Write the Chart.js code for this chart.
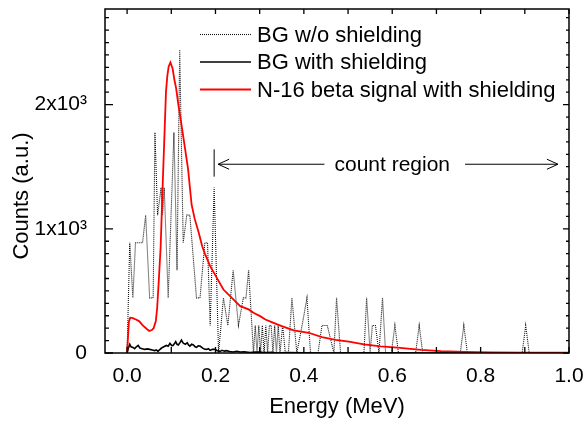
<!DOCTYPE html>
<html>
<head>
<meta charset="utf-8">
<title>N-16 beta spectrum</title>
<script src="https://cdn.jsdelivr.net/npm/chart.js@4.4.1/dist/chart.umd.min.js"></script>
<style>
  html, body { margin: 0; padding: 0; background: #fff; }
  canvas { display: block; }
</style>
</head>
<body>
<canvas id="spectrumChart" width="585" height="424"></canvas>
<script>
// BG w/o shielding (dotted), energy in MeV and counts
const bgNoShieldEnergy = [
  0.000, 0.006, 0.013, 0.019, 0.035, 0.042, 0.051, 0.059, 0.063, 0.069,
  0.077, 0.080, 0.084, 0.093, 0.106, 0.113, 0.119, 0.127, 0.135, 0.142,
  0.157, 0.165, 0.176, 0.182, 0.188, 0.197, 0.207, 0.218, 0.228, 0.240,
  0.252, 0.263, 0.269, 0.275, 0.286, 0.290, 0.294, 0.298, 0.302, 0.306,
  0.310, 0.314, 0.318, 0.322, 0.326, 0.330, 0.334, 0.338, 0.342, 0.346,
  0.352, 0.358, 0.365, 0.373, 0.384, 0.396, 0.407, 0.415, 0.432, 0.441,
  0.453, 0.468, 0.474, 0.483, 0.536, 0.542, 0.550, 0.555, 0.562, 0.570,
  0.578, 0.585, 0.598, 0.606, 0.614, 0.653, 0.661, 0.669, 0.754, 0.762,
  0.770, 0.894, 0.902, 0.910, 1.000
];
const bgNoShieldCounts = [
  0, 888, 444, 888, 888, 1110, 444, 444, 1776, 1110,
  1332, 1110, 1332, 444, 1776, 666, 2442, 888, 1110, 1110,
  444, 444, 888, 888, 222, 1332, 0, 444, 222, 666,
  222, 444, 444, 666, 0, 222, 0, 222, 0, 222,
  0, 222, 0, 222, 222, 0, 222, 0, 222, 0,
  222, 0, 0, 444, 0, 222, 444, 0, 0, 222,
  222, 0, 444, 0, 0, 444, 0, 222, 222, 0,
  444, 0, 0, 222, 0, 0, 222, 0, 0, 222,
  0, 0, 222, 0, 0
];

// BG with shielding (solid black)
const bgShieldEnergy = [
  0.000, 0.003, 0.006, 0.009, 0.013, 0.017, 0.021, 0.025, 0.029, 0.034,
  0.040, 0.046, 0.051, 0.057, 0.062, 0.066, 0.070, 0.074, 0.078, 0.083,
  0.089, 0.093, 0.097, 0.101, 0.104, 0.108, 0.110, 0.113, 0.116, 0.120,
  0.123, 0.126, 0.128, 0.132, 0.136, 0.139, 0.142, 0.146, 0.150, 0.154,
  0.157, 0.161, 0.165, 0.169, 0.172, 0.176, 0.180, 0.184, 0.188, 0.193,
  0.199, 0.204, 0.210, 0.215, 0.220, 0.225, 0.232, 0.240, 0.248, 0.256,
  0.265, 0.278, 0.290, 0.301, 0.308, 0.316, 0.327, 0.339, 0.360, 0.400,
  0.450, 0.500, 0.600, 0.700, 0.800, 0.900, 1.000
];
const bgShieldCounts = [
  0, 40, 70, 50, 45, 35, 50, 61, 40, 35,
  29, 33, 29, 24, 19, 25, 13, 28, 40, 50,
  61, 55, 77, 60, 61, 80, 91, 70, 64, 85,
  104, 85, 77, 70, 83, 65, 56, 70, 64, 50,
  45, 58, 56, 45, 37, 30, 29, 35, 21, 30,
  29, 18, 13, 22, 15, 19, 12, 8, 14, 8,
  10, 3, 7, 8, 4, 3, 5, 0, 3, 2,
  0, 1, 2, 0, 1, 0, 0
];

// N-16 beta signal with shielding (red)
const n16Energy = [
  0.000, 0.004, 0.007, 0.013, 0.020, 0.027, 0.036, 0.044, 0.050, 0.056,
  0.060, 0.065, 0.068, 0.072, 0.076, 0.081, 0.085, 0.088, 0.091, 0.094,
  0.098, 0.103, 0.107, 0.111, 0.116, 0.122, 0.131, 0.138, 0.146, 0.153,
  0.162, 0.170, 0.176, 0.188, 0.203, 0.218, 0.237, 0.256, 0.275, 0.286,
  0.301, 0.313, 0.330, 0.350, 0.377, 0.411, 0.441, 0.472, 0.502, 0.536,
  0.574, 0.612, 0.665, 0.710, 0.763, 0.824, 0.900, 1.000
];
const n16Counts = [
  0, 250, 284, 281, 270, 257, 220, 195, 178, 185,
  200, 257, 360, 600, 860, 1400, 1800, 2104, 2230, 2305,
  2339, 2291, 2200, 2131, 2000, 1863, 1650, 1480, 1194, 1080,
  970, 860, 800, 700, 605, 511, 444, 377, 351, 324,
  297, 270, 245, 217, 182, 163, 128, 105, 91, 69,
  53, 43, 25, 15, 8, 4, 3, 2
];

const seriesLabels = ['BG w/o shielding', 'BG with shielding', 'N-16 beta signal with shielding'];

const xTickValues = [0, 0.2, 0.4, 0.6, 0.8, 1.0];
const yTickValues = [0, 1000, 2000];
const yTickLabels = ['0', '1x10³', '2x10³'];

// count region marker (MeV / counts)
const countRegionStart = 0.197;
const countRegionEnd = 0.975;
const countRegionLabelAt = 0.6;
const countRegionLevel = 1520;
const countRegionMarkTop = 1640;
const countRegionMarkBottom = 1420;

const FONT = "'Liberation Sans', Arial, Helvetica, sans-serif";

function toPoints(xs, ys) {
    return xs.map((x, i) => ({ x: x, y: ys[i] }));
}

function drawArrowHead(ctx, x, y, dir) {
    ctx.moveTo(x - dir * 11, y - 5);
    ctx.lineTo(x, y);
    ctx.lineTo(x - dir * 11, y + 5);
}

const frameAndTicks = {
    id: 'frameAndTicks',
    afterDatasetsDraw(chart) {
        const { ctx, chartArea: a, scales: { x, y } } = chart;
        ctx.save();
        ctx.strokeStyle = '#000';
        ctx.lineWidth = 1.5;
        ctx.strokeRect(a.left, a.top, a.right - a.left, a.bottom - a.top);

        ctx.lineWidth = 1.3;
        ctx.beginPath();
        for (let i = 0; i <= 10; i++) {
            const px = x.getPixelForValue(i / 10);
            ctx.moveTo(px, a.bottom);
            ctx.lineTo(px, a.bottom - 6);
            ctx.moveTo(px, a.top);
            ctx.lineTo(px, a.top + 5);
        }
        for (let v = 0; v <= y.max; v += 100) {
            const py = y.getPixelForValue(v);
            const major = v % 1000 === 0;
            ctx.moveTo(a.left, py);
            ctx.lineTo(a.left + (major ? 8 : 4), py);
            ctx.moveTo(a.right, py);
            ctx.lineTo(a.right - (major ? 6 : 3), py);
        }
        ctx.stroke();
        ctx.restore();
    },
    afterDraw(chart) {
        const { ctx, chartArea: a, scales: { x, y } } = chart;
        ctx.save();

        // legend
        ctx.font = '22px ' + FONT;
        ctx.textBaseline = 'middle';
        ctx.textAlign = 'left';
        chart.data.datasets.forEach((ds, i) => {
            const rowY = a.top + 25.5 + i * 27.5;
            ctx.beginPath();
            ctx.strokeStyle = ds.borderColor;
            ctx.lineWidth = ds.borderWidth;
            ctx.setLineDash(ds.borderDash || []);
            ctx.moveTo(a.left + 95, rowY);
            ctx.lineTo(a.left + 146, rowY);
            ctx.stroke();
            ctx.setLineDash([]);
            ctx.fillStyle = '#000';
            ctx.fillText(ds.label, a.left + 152, rowY + 1);
        });

        // count region annotation
        ctx.font = '21px ' + FONT;
        const x0 = x.getPixelForValue(countRegionStart);
        const x1 = x.getPixelForValue(countRegionEnd);
        const yl = y.getPixelForValue(countRegionLevel);
        const xt = x.getPixelForValue(countRegionLabelAt);
        const tw = ctx.measureText('count region').width;
        ctx.strokeStyle = '#000';
        ctx.lineWidth = 1;
        ctx.beginPath();
        ctx.moveTo(x0, y.getPixelForValue(countRegionMarkTop));
        ctx.lineTo(x0, y.getPixelForValue(countRegionMarkBottom));
        ctx.moveTo(x0 + 4, yl);
        ctx.lineTo(xt - tw / 2 - 10, yl);
        drawArrowHead(ctx, x0 + 4, yl, -1);
        ctx.moveTo(xt + tw / 2 + 15, yl);
        ctx.lineTo(x1, yl);
        drawArrowHead(ctx, x1, yl, 1);
        ctx.stroke();
        ctx.textAlign = 'center';
        ctx.fillText('count region', xt, yl + 1);

        // y axis title
        ctx.translate(22, a.top + 187);
        ctx.rotate(-Math.PI / 2);
        ctx.font = '22px ' + FONT;
        ctx.fillText('Counts (a.u.)', 0, 0);
        ctx.restore();
    }
};

const ctx = document.getElementById('spectrumChart');

new Chart(ctx, {
    type: 'line',
    data: {
        datasets: [
            {
                label: seriesLabels[0],
                data: toPoints(bgNoShieldEnergy, bgNoShieldCounts),
                borderColor: '#111',
                borderWidth: 1.1,
                borderDash: [1, 1],
                pointRadius: 0,
                tension: 0,
                order: 2
            },
            {
                label: seriesLabels[1],
                data: toPoints(bgShieldEnergy, bgShieldCounts),
                borderColor: '#000',
                borderWidth: 1.6,
                pointRadius: 0,
                tension: 0,
                order: 1
            },
            {
                label: seriesLabels[2],
                data: toPoints(n16Energy, n16Counts),
                borderColor: '#ff0000',
                borderWidth: 1.8,
                pointRadius: 0,
                tension: 0,
                order: 0
            }
        ]
    },
    options: {
        responsive: false,
        animation: false,
        devicePixelRatio: 1,
        layout: { padding: { top: 9, right: 16, left: 0, bottom: 0 } },
        plugins: {
            legend: { display: false },
            tooltip: { enabled: false }
        },
        scales: {
            x: {
                type: 'linear',
                min: -0.05,
                max: 1.0,
                bounds: 'data',
                grid: { display: false },
                border: { display: false },
                afterBuildTicks: scale => {
                    scale.ticks = xTickValues.map(v => ({ value: v }));
                },
                afterFit: scale => {
                    scale.height = 71;
                    scale.paddingLeft = 0;
                    scale.paddingRight = 0;
                },
                ticks: {
                    color: '#000',
                    font: { family: FONT, size: 21 },
                    padding: 3,
                    maxRotation: 0,
                    autoSkip: false,
                    callback: value => value.toFixed(1)
                },
                title: {
                    display: true,
                    text: 'Energy (MeV)',
                    color: '#000',
                    font: { family: FONT, size: 22 },
                    padding: { top: 0, bottom: 4 }
                }
            },
            y: {
                type: 'linear',
                min: 0,
                max: 2770,
                bounds: 'data',
                grid: { display: false },
                border: { display: false },
                afterBuildTicks: scale => {
                    scale.ticks = yTickValues.map(v => ({ value: v }));
                },
                afterFit: scale => {
                    scale.width = 105;
                    scale.paddingTop = 0;
                    scale.paddingBottom = 0;
                },
                ticks: {
                    color: '#000',
                    font: { family: FONT, size: 21 },
                    padding: 10,
                    autoSkip: false,
                    callback: value => yTickLabels[yTickValues.indexOf(value)]
                }
            }
        }
    },
    plugins: [frameAndTicks]
});
</script>
</body>
</html>
